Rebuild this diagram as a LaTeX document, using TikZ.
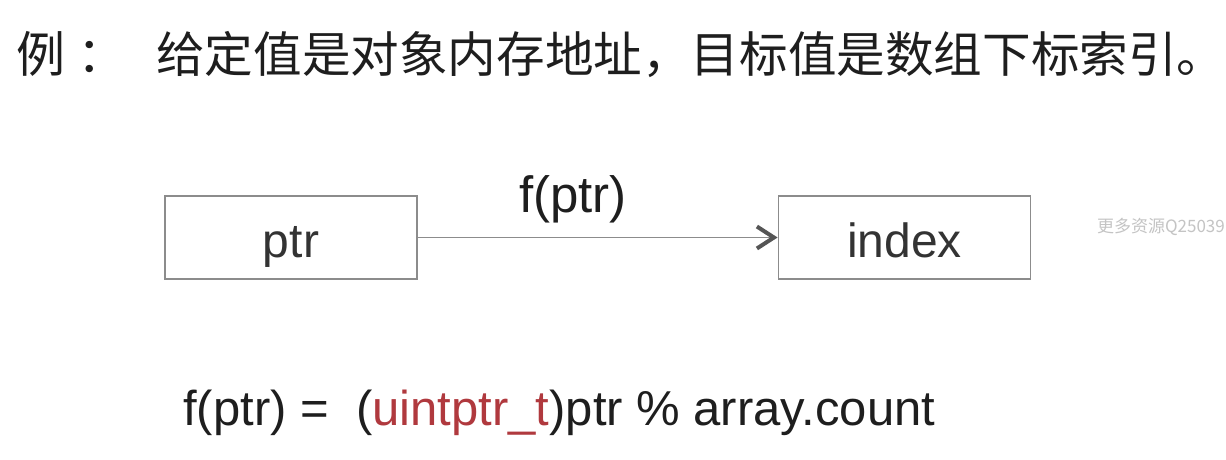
\documentclass[tikz,border=0pt]{standalone}
\usepackage{fontspec}
\setmainfont{Liberation Sans}
\newfontfamily\cjk{Noto Sans CJK SC}
\usetikzlibrary{arrows.meta}
\definecolor{boxgray}{HTML}{8C8C8C}
\definecolor{tipgray}{HTML}{555555}
\definecolor{typered}{HTML}{B0393E}
\definecolor{txt}{HTML}{1E1E1E}
\definecolor{boxtxt}{HTML}{333333}
\definecolor{wm}{HTML}{C4C4C4}
\begin{document}
\begin{tikzpicture}[x=1pt,y=-1pt,
  box/.style={draw=boxgray,line width=1.8pt,minimum width=252pt,minimum height=83pt,inner sep=0pt,font=\fontsize{48}{50}\selectfont,text=boxtxt},
  lbl/.style={font=\fontsize{49}{51}\selectfont,text=txt,inner sep=0pt},
  conn/.style={draw=boxgray,line width=1.8pt,-{Straight Barb[length=17pt,width=22pt,line width=4pt,color=tipgray]}}]
\useasboundingbox (0,0) rectangle (1226,460);
\fill[white] (0,0) rectangle (1226,460);
\node[lbl,anchor=base west] (ex) at (16,73) {\cjk 例\hspace{12pt}：};
\node[lbl,font=\fontsize{48.6}{50}\selectfont,anchor=base west] (title) at (156,73) {\cjk 给定值是对象内存地址，目标值是数组下标索引。};
\node[box] (ptr) at (291,237.5) {\raisebox{-20pt}[0pt][0pt]{ptr}};
\node[box] (index) at (904.5,237.5) {\raisebox{-20pt}[0pt][0pt]{index}};
\draw[conn] (ptr.east) -- (index.west);
\node[lbl,font=\fontsize{51}{53}\selectfont,anchor=base] (f) at (573,212) {f(ptr)};
\node[lbl,anchor=base west] (formula) at (183,425) {f(ptr) =\ \ (\textcolor{typered}{uintptr\_t})ptr \% array.count};
\node[anchor=east,inner sep=0pt,font=\cjk\fontsize{17}{19}\selectfont,text=wm] (wmk) at (1225,227) {更多资源Q25039};
\end{tikzpicture}
\end{document}
